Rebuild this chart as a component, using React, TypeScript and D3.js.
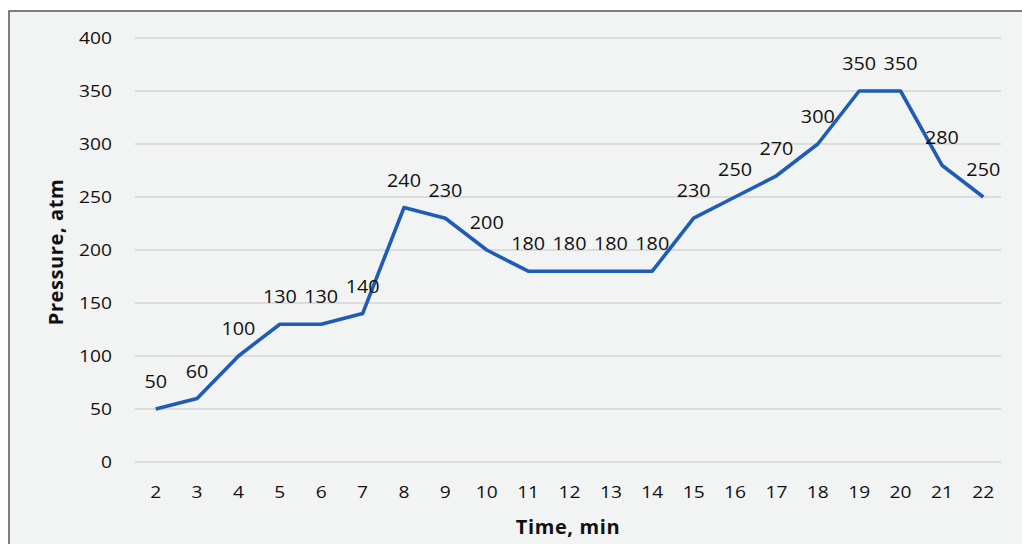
import React from "react";
import * as d3 from "d3";

const times = [2, 3, 4, 5, 6, 7, 8, 9, 10, 11, 12, 13, 14, 15, 16, 17, 18, 19, 20, 21, 22];
const pressure = [50, 60, 100, 130, 130, 140, 240, 230, 200, 180, 180, 180, 180, 230, 250, 270, 300, 350, 350, 280, 250];
const yTicks = [0, 50, 100, 150, 200, 250, 300, 350, 400];

const W = 1022;
const H = 544;
const FONT = "'Open Sans', 'DejaVu Sans', sans-serif";
const SX = 1.13;

export default function App() {
  const x = d3
    .scaleBand<number>()
    .domain(times)
    .range([135, 1004])
    .padding(0);
  const y = d3.scaleLinear().domain([0, 400]).range([462, 38]);
  const cx = (t: number) => (x(t) as number) + x.bandwidth() / 2;
  const line = d3
    .line<number>()
    .x((_, i) => cx(times[i]))
    .y((d) => y(d));

  return (
    <svg
      width={W}
      height={H}
      style={{ position: "absolute", left: 0, top: 0 }}
      fontFamily={FONT}
    >
      <rect x={0} y={0} width={W} height={H} fill="#ffffff" />
      <rect x={9} y={11} width={W} height={H} fill="#f2f3f3" stroke="#555" strokeWidth={1.5} />
      {yTicks.map((t) => (
        <g key={t}>
          <line x1={135} x2={1001} y1={y(t)} y2={y(t)} stroke="#d4d4d4" strokeWidth={1.5} />
          <text
            transform={`translate(112,${y(t)}) scale(${SX},1)`}
            dy="0.35em"
            textAnchor="end"
            fontSize={17}
            fontWeight={500}
            fill="#111"
          >
            {t}
          </text>
        </g>
      ))}
      {times.map((t) => (
        <text
          key={t}
          transform={`translate(${cx(t)},492) scale(${SX},1)`}
          dy="0.35em"
          textAnchor="middle"
          fontSize={17}
          fontWeight={500}
          fill="#111"
        >
          {t}
        </text>
      ))}
      <path d={line(pressure) || ""} fill="none" stroke="#1f5cb5" strokeWidth={3.6} strokeLinejoin="round" />
      {pressure.map((v, i) => (
        <text
          key={i}
          transform={`translate(${cx(times[i])},${y(v) - 27}) scale(${SX},1)`}
          dy="0.35em"
          textAnchor="middle"
          fontSize={17.5}
          fontWeight={500}
          fill="#111"
        >
          {v}
        </text>
      ))}
      <text x={568} y={527} dy="0.35em" textAnchor="middle" fontSize={20} letterSpacing={0.6} fontWeight="bold" fill="#111">
        Time, min
      </text>
      <text
        transform={`translate(56,252) rotate(-90)`}
        dy="0.35em"
        textAnchor="middle"
        fontSize={20}
        letterSpacing={0.6}
        fontWeight="bold"
        fill="#111"
      >
        Pressure, atm
      </text>
    </svg>
  );
}
